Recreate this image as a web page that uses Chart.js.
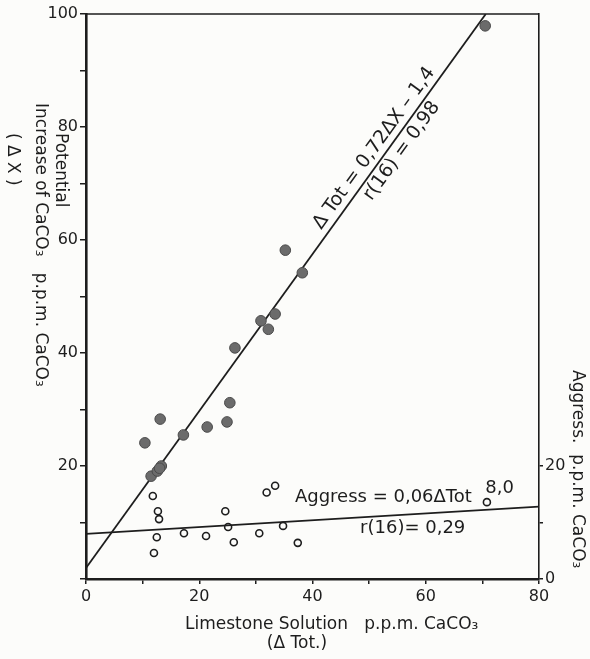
<!DOCTYPE html>
<html>
<head>
<meta charset="utf-8">
<script src="https://cdn.jsdelivr.net/npm/chart.js@4.4.1/dist/chart.umd.min.js"></script>
<style>
    html, body { margin: 0; padding: 0; background: #fcfcfa; }
</style>
</head>
<body>
<canvas id="chart-limestone" width="590" height="659"></canvas>
<script>
// limestone solution (ΔTot) vs potential increase (ΔX), closed circles
const totClosed = [10.4, 13.1, 11.5, 12.6, 13.3, 13.0, 17.2, 21.4, 24.9, 25.4, 26.3, 30.9, 32.2, 33.4, 35.2, 38.2, 70.5];
const deltaX    = [24.1, 28.3, 18.2, 19.1, 20.0, 19.6, 25.5, 26.9, 27.8, 31.2, 40.9, 45.7, 44.2, 46.9, 58.2, 54.2, 97.9];

// limestone solution (ΔTot) vs aggressiveness, open circles
const totOpen = [11.8, 12.7, 12.9, 12.5, 12.0, 17.3, 21.2, 24.6, 25.1, 26.1, 30.6, 31.9, 33.4, 34.8, 37.4, 70.8];
const aggress = [14.7, 12.0, 10.6, 7.4, 4.6, 8.1, 7.6, 12.0, 9.2, 6.5, 8.1, 15.3, 16.5, 9.4, 6.4, 13.6];

// regressions: ΔTot = 0.72ΔX - 1.4 and Aggress = 0.06ΔTot + 8.0
const totFit = [0.72, -1.4];
const aggressFit = [0.06, 8.0];

const xTickLabels = [0, 20, 40, 60, 80];
const yTickLabels = [20, 40, 60, 80, 100];
const y2Ticks = [0, 10, 20];
const y2TickLabels = [0, 20];

const INK = '#1d1d1d';
const FONT = '"DejaVu Sans", sans-serif';

// fitted lines expressed on the plot axes
const totLine = [
    { x: 0, y: (0 - totFit[1]) / totFit[0] },
    { x: totFit[0] * 100 + totFit[1], y: 100 }
];
const aggressLine = [
    { x: 0, y: aggressFit[1] },
    { x: 80, y: aggressFit[0] * 80 + aggressFit[1] }
];

function rotText(ctx, text, x, y, angle, align) {
    ctx.save();
    ctx.translate(x, y);
    ctx.rotate(angle);
    ctx.textAlign = align;
    ctx.textBaseline = 'middle';
    ctx.fillText(text, 0, 0);
    ctx.restore();
}

const labelsPlugin = {
    id: 'labels',
    afterDraw(chart) {
        const ctx = chart.ctx;
        const a = chart.chartArea;
        const xs = chart.scales.x, ys = chart.scales.y;

        // top frame line
        ctx.save();
        ctx.strokeStyle = INK;
        ctx.lineWidth = 1.6;
        ctx.beginPath();
        ctx.moveTo(a.left, a.top);
        ctx.lineTo(a.right, a.top);
        ctx.stroke();

        ctx.fillStyle = INK;
        ctx.font = '17px ' + FONT;

        // left axis title, reads downward
        rotText(ctx, 'Potential', 60, 133, Math.PI / 2, 'left');
        rotText(ctx, 'Increase of CaCO\u2083   p.p.m. CaCO\u2083', 40, 103, Math.PI / 2, 'left');
        rotText(ctx, '( \u0394 X )', 12, 133, Math.PI / 2, 'left');

        // right axis title
        rotText(ctx, 'Aggress.  p.p.m. CaCO\u2083', 577, 370, Math.PI / 2, 'left');

        // bottom axis title
        ctx.textBaseline = 'middle';
        ctx.textAlign = 'left';
        ctx.fillText('Limestone Solution   p.p.m. CaCO\u2083', 185, 625);
        ctx.textAlign = 'center';
        ctx.fillText('(\u0394 Tot.)', 297, 644);

        // regression labels either side of the steep line
        const p0 = { x: xs.getPixelForValue(totLine[0].x), y: ys.getPixelForValue(totLine[0].y) };
        const p1 = { x: xs.getPixelForValue(totLine[1].x), y: ys.getPixelForValue(totLine[1].y) };
        const ang = Math.atan2(p1.y - p0.y, p1.x - p0.x);
        const nx = Math.sin(ang), ny = -Math.cos(ang);   // normal pointing up-left
        const onLine = dx => ({
            x: xs.getPixelForValue(totFit[0] * dx + totFit[1]),
            y: ys.getPixelForValue(dx)
        });
        ctx.font = '19px ' + FONT;
        const pe = onLine(75);
        rotText(ctx, '\u0394 Tot = 0,72\u0394X \u2013 1,4', pe.x + 12 * nx, pe.y + 12 * ny, ang, 'center');
        const pr = onLine(77);
        rotText(ctx, 'r(16) = 0,98', pr.x - 12 * nx, pr.y - 12 * ny, ang, 'center');

        // labels on the aggressiveness line
        ctx.font = '18px ' + FONT;
        ctx.textAlign = 'left';
        ctx.fillText('Aggress = 0,06\u0394Tot', xs.getPixelForValue(36.9), ys.getPixelForValue(14.5));
        ctx.fillText('8,0', xs.getPixelForValue(70.5), ys.getPixelForValue(16.1));
        ctx.fillText('r(16)= 0,29', xs.getPixelForValue(48.4), ys.getPixelForValue(9.0));
        ctx.restore();
    }
};

const tickFont = { family: FONT, size: 16 };

const ctx = document.getElementById('chart-limestone').getContext('2d');
const chartLimestone = new Chart(ctx, {
    type: 'scatter',
    data: {
        datasets: [
            {
                label: '\u0394X',
                data: totClosed.map((t, i) => ({ x: t, y: deltaX[i] })),
                backgroundColor: '#6b6b6b',
                borderColor: '#4a4a4a',
                borderWidth: 1,
                pointRadius: 5.3,
                yAxisID: 'y'
            },
            {
                label: 'Aggress',
                data: totOpen.map((t, i) => ({ x: t, y: aggress[i] })),
                backgroundColor: 'rgba(0,0,0,0)',
                borderColor: INK,
                borderWidth: 1.6,
                pointRadius: 3.5,
                yAxisID: 'y2'
            },
            {
                type: 'line',
                data: totLine,
                borderColor: INK,
                borderWidth: 1.8,
                pointRadius: 0,
                yAxisID: 'y'
            },
            {
                type: 'line',
                data: aggressLine,
                borderColor: INK,
                borderWidth: 1.8,
                pointRadius: 0,
                yAxisID: 'y2'
            }
        ]
    },
    options: {
        responsive: false,
        animation: false,
        layout: { padding: { top: 14, left: 0, right: 0, bottom: 0 } },
        plugins: {
            legend: { display: false },
            tooltip: { enabled: false }
        },
        scales: {
            x: {
                type: 'linear',
                position: 'bottom',
                min: 0,
                max: 80,
                afterFit: s => { s.height = 80; },
                border: { display: true, width: 2.6, color: INK },
                grid: { drawOnChartArea: false, tickLength: 5, tickColor: INK, lineWidth: 1.5 },
                ticks: {
                    stepSize: 10,
                    padding: 3,
                    color: INK,
                    font: tickFont,
                    maxRotation: 0,
                    autoSkip: false,
                    callback: v => xTickLabels.includes(v) ? String(v) : ''
                }
            },
            y: {
                type: 'linear',
                position: 'left',
                min: 0,
                max: 100,
                afterFit: s => { s.width = 86; },
                border: { display: true, width: 2.6, color: INK },
                grid: { drawOnChartArea: false, tickLength: 6, tickColor: INK, lineWidth: 1.5 },
                ticks: {
                    stepSize: 10,
                    padding: 2,
                    color: INK,
                    font: tickFont,
                    autoSkip: false,
                    callback: v => yTickLabels.includes(v) ? String(v) : ''
                }
            },
            y2: {
                type: 'linear',
                position: 'right',
                min: 0,
                max: 100,
                afterFit: s => { s.width = 51; },
                afterBuildTicks: s => { s.ticks = y2Ticks.map(v => ({ value: v })); },
                border: { display: true, width: 1.6, color: INK },
                grid: { drawOnChartArea: false, tickLength: 4, tickColor: INK, lineWidth: 1.5 },
                ticks: {
                    padding: 2,
                    color: INK,
                    font: tickFont,
                    autoSkip: false,
                    callback: v => y2TickLabels.includes(v) ? String(v) : ''
                }
            }
        }
    },
    plugins: [labelsPlugin]
});
</script>
</body>
</html>
